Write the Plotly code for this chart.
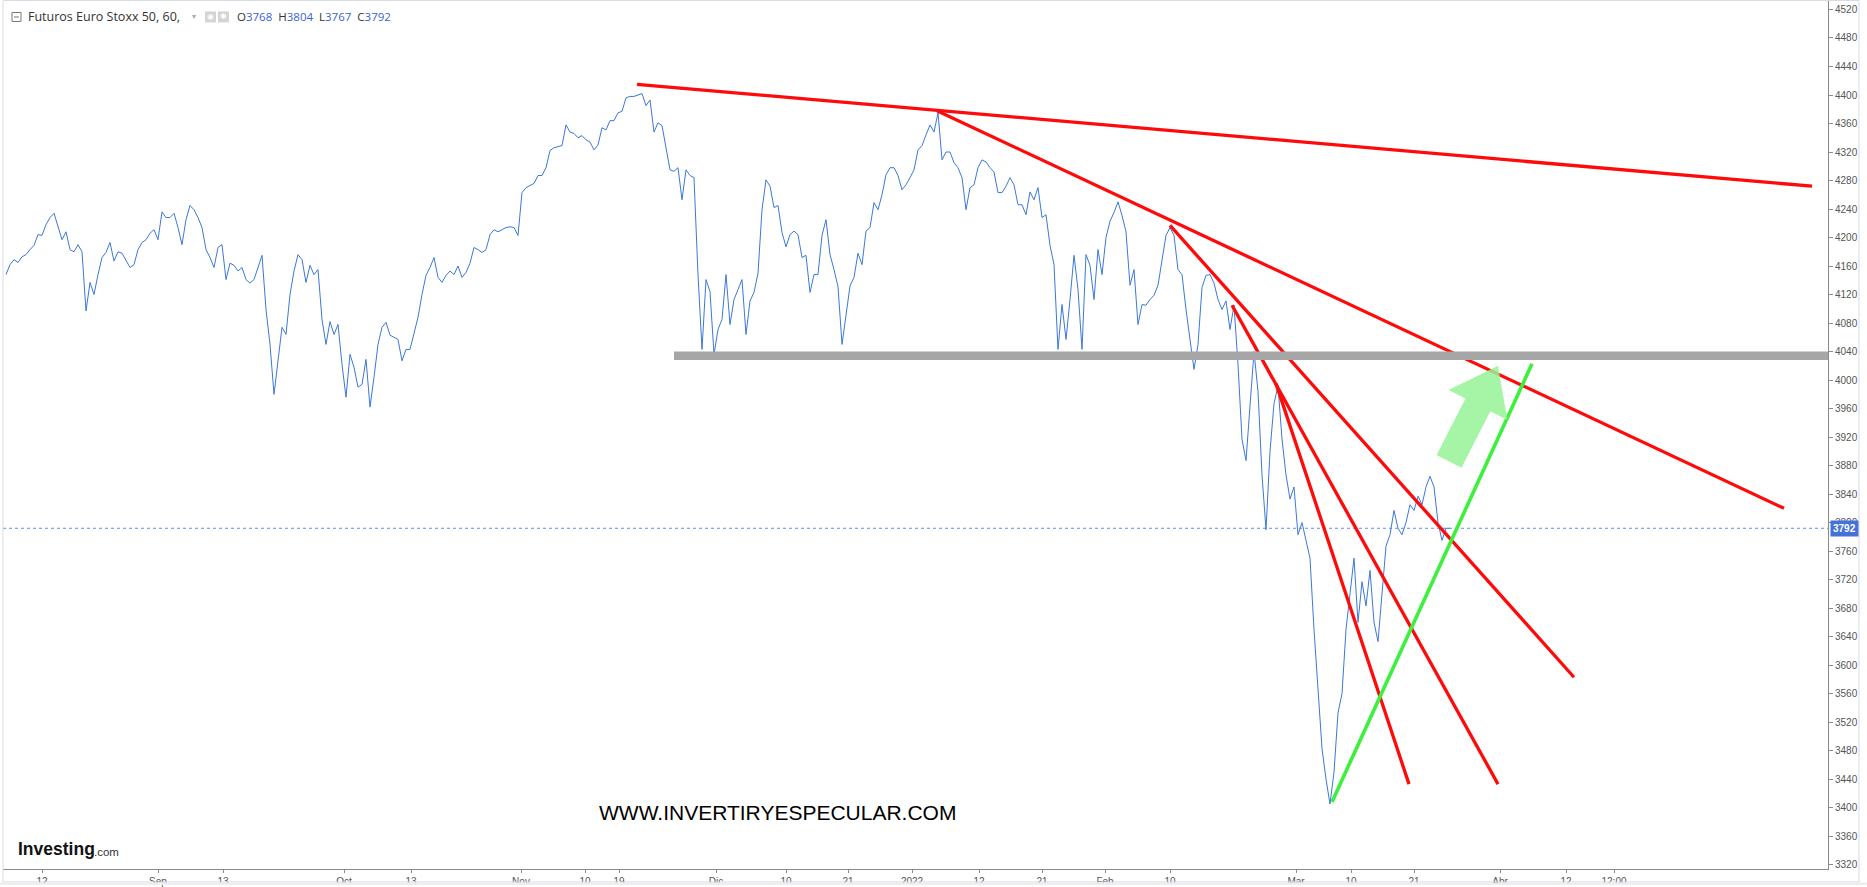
import math
import plotly.graph_objects as go

# ---------------- data ----------------
# hourly closes sampled at evenly spaced bars (bar index 0 = mid Aug 2021)
price = [
    # Aug - mid Sep
    4148, 4162, 4169, 4165, 4173, 4176, 4183, 4189, 4204, 4203, 4218, 4228, 4234, 4214, 4197, 4208,
    4183, 4180, 4190, 4180, 4097, 4137, 4120, 4148, 4172, 4179, 4193, 4167, 4180, 4178, 4167, 4158,
    4162, 4183, 4193, 4197, 4206, 4211, 4197, 4236, 4228, 4228, 4234, 4214, 4190, 4225, 4245, 4239,
    4228, 4214, 4183, 4172, 4158, 4186, 4190, 4141, 4164, 4161, 4153, 4158, 4141, 4136,
    # mid Sep - end Oct
    4141, 4158, 4175, 4099, 4050, 3980, 4029, 4074, 4064, 4120, 4153, 4176, 4169, 4137, 4161, 4148,
    4155, 4085, 4050, 4082, 4064, 4078, 4022, 3976, 4036, 4018, 3990, 3994, 4029, 3962, 4004, 4050,
    4074, 4081, 4063, 4060, 4057, 4027, 4043, 4043, 4064, 4088, 4120, 4147, 4158, 4172, 4144, 4137,
    4147, 4153, 4148, 4160, 4144, 4151, 4164, 4186, 4183, 4179, 4183, 4204, 4211, 4208, 4211, 4214,
    4215,
    # Nov - mid Dec
    4214, 4203, 4263, 4270, 4273, 4276, 4287, 4287, 4298, 4322, 4326, 4328, 4329, 4358, 4348, 4346,
    4340, 4343, 4337, 4334, 4323, 4330, 4354, 4351, 4364, 4364, 4375, 4377, 4396, 4398, 4398, 4400,
    4402, 4385, 4393, 4348, 4361, 4357, 4327, 4295, 4293, 4298, 4253, 4295, 4287, 4284, 4148, 4043,
    4141, 4124, 4036, 4071, 4085, 4148, 4078, 4113, 4127, 4141, 4064, 4111, 4123, 4150,
    # mid Dec - mid Jan
    4239, 4281, 4272, 4242, 4245, 4207, 4187, 4204, 4209, 4204, 4172, 4175, 4123, 4148, 4148, 4203,
    4225, 4176, 4155, 4131, 4050, 4091, 4132, 4144, 4178, 4162, 4209, 4214, 4249, 4239, 4260, 4288,
    4298, 4298, 4287, 4267, 4274, 4284, 4295, 4323, 4329, 4344, 4358, 4348, 4375, 4309, 4320, 4320,
    4305, 4298, 4284, 4239, 4270, 4274, 4298, 4309, 4306, 4298, 4292, 4263, 4263, 4272, 4284,
    # mid Jan - mid Feb
    4274, 4246, 4246, 4232, 4264, 4253, 4270, 4228, 4232, 4189, 4162, 4043, 4106, 4057, 4113, 4175,
    4127, 4043, 4176, 4161, 4113, 4183, 4148, 4200, 4223, 4235, 4250, 4231, 4208, 4133, 4155, 4078,
    4106, 4105, 4113, 4119, 4133, 4167, 4203, 4214, 4203, 4155, 4148, 4099, 4057, 4015, 4050, 4130,
    4147, 4148, 4136, 4113, 4099, 4111, 4071, 4105, 4022, 3917, 3887, 3960, 4040, 3984,
    # late Feb - Mar 25
    3867, 3790, 3900, 3967, 3992, 3917, 3867, 3833, 3850, 3783, 3800, 3775, 3750, 3650, 3567, 3483,
    3440, 3405, 3450, 3533, 3560, 3650, 3700, 3750, 3660, 3717, 3683, 3733, 3660, 3633, 3700, 3767,
    3783, 3817, 3792, 3783, 3800, 3825, 3817, 3837, 3825, 3850, 3865, 3850, 3800, 3775, 3792, 3792,
]

x_tick_pos = [9, 38, 54.25, 84.5, 101.25, 128.75, 144.75, 153.25, 177.5, 195, 210.5, 226.5,
              243.25, 259, 274.75, 291, 322.5, 336.25, 352, 373.5, 390, 402]
x_tick_text = ["12", "Sep", "13", "Oct", "13", "Nov", "10", "19", "Dic", "10", "21", "2022",
               "12", "21", "Feb", "10", "Mar", "10", "21", "Abr", "12", "12:00"]
y_tick_vals = list(range(3320, 4521, 40))

title_text = "Futuros Euro Stoxx 50, 60,"
ohlc_names = ["O", "H", "L", "C"]
ohlc_values = [3768, 3804, 3767, 3792]
last_price = 3792

support_low, support_high = 4028, 4040
support_start = 167

# resistance trend lines: start bar, start price, end bar, end price
trend_x0 = [157.75, 232.75, 291, 306.5, 317.5]
trend_p0 = [4415, 4378, 4217, 4105, 3995]
trend_x1 = [451.5, 444.5, 392, 373, 350.75]
trend_p1 = [4272, 3820, 3583, 3433, 3433]

# support (green) trend line
up_x = [331.5, 381.5]
up_p = [3408, 4023]

# green arrow: tail and tip (bar, price)
arrow_tail = (360.75, 3886)
arrow_tip = (373.0, 4020)

watermark = "WWW.INVERTIRYESPECULAR.COM"

# ---------------- geometry / style ----------------
W, H = 1867, 887
PL, PR, PT, PB = 3, 1828, 0, 871
XMIN, XMAX = -0.75, 455.5
YMIN, YMAX = 3313.9, 4533.3

BLUE = "#3c78d8"
RED = "#ff0a0a"
GREEN = "#3df03d"
TXT = "#333333"
AXIS_FONT = "Liberation Sans Narrow, Arial Narrow, Liberation Sans, Arial"


def px_x(px):
    return (px - PL) / (PR - PL)


def px_y(py):
    return (PB - py) / (PB - PT)


def d2px(b, p):
    return (PL + (b - XMIN) / (XMAX - XMIN) * (PR - PL),
            PT + (YMAX - p) / (YMAX - YMIN) * (PB - PT))


bars = list(range(len(price)))

fig = go.Figure()

# price line
fig.add_trace(go.Scatter(x=bars, y=price, mode="lines",
                         line=dict(color=BLUE, width=1), hoverinfo="skip"))

# red trend lines
for a, pa, b, pb in zip(trend_x0, trend_p0, trend_x1, trend_p1):
    fig.add_trace(go.Scatter(x=[a, b], y=[pa, pb], mode="lines",
                             line=dict(color=RED, width=3.3), hoverinfo="skip"))

# green up line
fig.add_trace(go.Scatter(x=up_x, y=up_p, mode="lines",
                         line=dict(color=GREEN, width=3.6), hoverinfo="skip"))

shapes = []
# support band
shapes.append(dict(type="rect", xref="x", yref="y", x0=support_start, x1=XMAX,
                   y0=support_low, y1=support_high, fillcolor="#a6a6a6",
                   line=dict(width=0), layer="above"))
# last price dotted line
shapes.append(dict(type="line", xref="paper", yref="y", x0=0, x1=1,
                   y0=last_price, y1=last_price,
                   line=dict(color="#5b8ef0", width=1, dash="dot"), layer="below"))

# green arrow polygon
tx, ty = d2px(*arrow_tip)
cx, cy = d2px(*arrow_tail)
L = math.hypot(tx - cx, ty - cy)
dx, dy = (tx - cx) / L, (ty - cy) / L
nx, ny = -dy, dx
body_w, head_w, head_len = 14, 33, 44
neck_x, neck_y = tx - dx * head_len, ty - dy * head_len
pts = [
    (cx + nx * body_w, cy + ny * body_w),
    (neck_x + nx * body_w, neck_y + ny * body_w),
    (neck_x + nx * head_w, neck_y + ny * head_w),
    (tx, ty),
    (neck_x - nx * head_w, neck_y - ny * head_w),
    (neck_x - nx * body_w, neck_y - ny * body_w),
    (cx - nx * body_w, cy - ny * body_w),
]
path = "M " + " L ".join(f"{px_x(x):.5f},{px_y(y):.5f}" for x, y in pts) + " Z"
shapes.append(dict(type="path", xref="paper", yref="paper", path=path,
                   fillcolor="rgba(150,242,150,0.85)", line=dict(width=0)))

# outer frame
shapes.append(dict(type="rect", xref="paper", yref="paper",
                   x0=px_x(3), x1=px_x(1859), y0=px_y(884), y1=px_y(0.5),
                   line=dict(color="#d8dbe2", width=1), fillcolor="rgba(0,0,0,0)"))
shapes.append(dict(type="rect", xref="paper", yref="paper",
                   x0=px_x(0), x1=px_x(1867), y0=px_y(887), y1=px_y(884.5),
                   line=dict(width=0), fillcolor="#eceef2"))
# collapse box in header
shapes.append(dict(type="rect", xref="paper", yref="paper",
                   x0=px_x(12), x1=px_x(21), y0=px_y(21.5), y1=px_y(12.5),
                   line=dict(color="#777", width=1)))
shapes.append(dict(type="line", xref="paper", yref="paper",
                   x0=px_x(14), x1=px_x(19), y0=px_y(17), y1=px_y(17),
                   line=dict(color="#777", width=1)))
# two grey icon squares in header
for x0 in (205, 218):
    shapes.append(dict(type="rect", xref="paper", yref="paper",
                       x0=px_x(x0), x1=px_x(x0 + 11), y0=px_y(22.5), y1=px_y(11.5),
                       fillcolor="#d4d4d4", line=dict(width=0)))

annotations = []
annotations.append(dict(xref="paper", yref="paper", x=px_x(26), y=px_y(17),
                        xanchor="left", yanchor="middle", showarrow=False,
                        text=title_text,
                        font=dict(family="Open Sans, Noto Sans", size=12.5, color=TXT)))
annotations.append(dict(xref="paper", yref="paper", x=px_x(190), y=px_y(17),
                        xanchor="left", yanchor="middle", showarrow=False,
                        text="▾", font=dict(family="DejaVu Sans", size=8, color="#aaaaaa")))
for x0, sym in ((205, "◉"), (218, "✱")):
    annotations.append(dict(xref="paper", yref="paper", x=px_x(x0 + 5.5), y=px_y(17),
                            xanchor="center", yanchor="middle", showarrow=False,
                            text=sym, font=dict(family="DejaVu Sans", size=8, color="#ffffff")))
ohlc = "&nbsp;&nbsp;".join(
    f"{n}<span style='color:#3b5fd6'>{v}</span>" for n, v in zip(ohlc_names, ohlc_values))
annotations.append(dict(xref="paper", yref="paper", x=px_x(235), y=px_y(17),
                        xanchor="left", yanchor="middle", showarrow=False, text=ohlc,
                        font=dict(family="Open Sans, Noto Sans", size=11.5, color=TXT)))
# last price tag on the axis
annotations.append(dict(xref="paper", yref="y", x=1, y=last_price, xanchor="left",
                        yanchor="middle", showarrow=False, text=f"<b>{last_price}</b>",
                        bgcolor="#4472d9", borderpad=2, xshift=2,
                        font=dict(family="Liberation Sans, Arial", size=10, color="white")))
# watermark text
annotations.append(dict(xref="paper", yref="paper", x=px_x(777), y=px_y(814),
                        xanchor="center", yanchor="middle", showarrow=False, text=watermark,
                        font=dict(family="Liberation Sans, Arial", size=21, color="#000000")))
# Investing.com logo
annotations.append(dict(xref="paper", yref="paper", x=px_x(16), y=px_y(851),
                        xanchor="left", yanchor="middle", showarrow=False,
                        text="<b>Investing</b>",
                        font=dict(family="Liberation Sans, Arial", size=17.5, color="#111111")))
annotations.append(dict(xref="paper", yref="paper", x=px_x(92), y=px_y(854),
                        xanchor="left", yanchor="middle", showarrow=False,
                        text=".com",
                        font=dict(family="Liberation Sans, Arial", size=11.5, color="#333333")))

fig.update_layout(
    width=W, height=H,
    margin=dict(l=PL, r=W - PR, t=PT, b=H - PB),
    paper_bgcolor="white", plot_bgcolor="white",
    showlegend=False,
    shapes=shapes, annotations=annotations,
    xaxis=dict(range=[XMIN, XMAX], tickmode="array", tickvals=x_tick_pos,
               ticktext=x_tick_text, showgrid=False, zeroline=False,
               showline=True, linecolor="#8a8a8a", linewidth=1,
               ticks="outside", ticklen=3, tickcolor="#8a8a8a",
               tickfont=dict(family=AXIS_FONT, size=10, color="#555555"),
               fixedrange=True),
    yaxis=dict(range=[YMIN, YMAX], side="right", tickmode="array", tickvals=y_tick_vals,
               ticktext=[str(v) for v in y_tick_vals], showgrid=False, zeroline=False,
               showline=True, linecolor="#8a8a8a", linewidth=1,
               ticks="outside", ticklen=4, tickcolor="#8a8a8a",
               tickfont=dict(family=AXIS_FONT, size=10, color="#555555"),
               fixedrange=True),
)

fig.write_html("out.html", config={"displayModeBar": False},
               post_script="document.body.style.margin='0px';"
                           "document.body.style.overflow='hidden';")
